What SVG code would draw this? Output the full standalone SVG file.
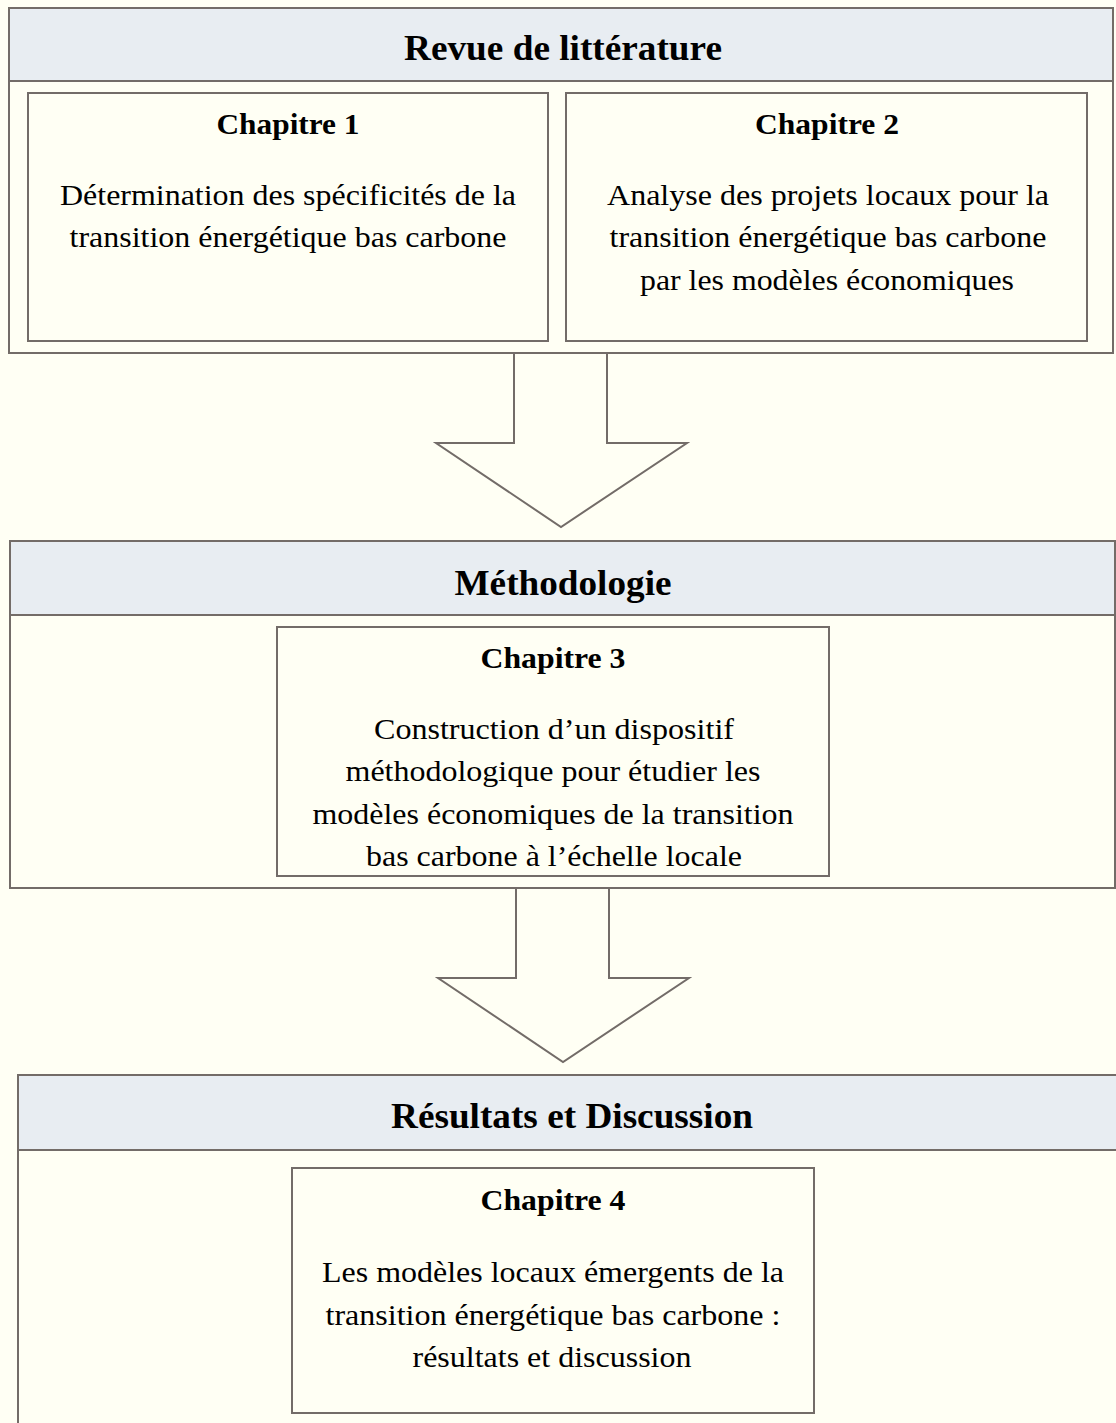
<svg xmlns="http://www.w3.org/2000/svg" width="1116" height="1423" viewBox="0 0 1116 1423" font-family="'Liberation Serif', 'Times New Roman', Times, serif">
<style>
.bg{fill:#FFFFF4}
.box{fill:#FFFFF4;stroke:#736C68;stroke-width:2}
.hdr{fill:#E8EDF2;stroke:#736C68;stroke-width:2}
.arr{fill:#FFFFF4;stroke:#736C68;stroke-width:2;stroke-linejoin:miter}
text{font-family:'Liberation Serif', 'Times New Roman', Times, serif;fill:#000;text-anchor:middle}
.h{font-size:36px;font-weight:bold}
.c{font-size:30px;font-weight:bold}
.t{font-size:30px}
</style>
<rect class="bg" x="0" y="0" width="1116" height="1423"/>
<g id="connectors">
<path class="arr" d="M514,353 V443 H436 L561,527 L687,443 H607 V353"/>
<path class="arr" d="M516,888 V978 H438 L563,1062 L689,978 H609 V888"/>
</g>
<g id="revue">
<rect class="box" x="9" y="8" width="1104" height="345"/>
<rect class="hdr" x="9" y="8" width="1104" height="73"/>
<text class="h" x="563" y="60" textLength="318" lengthAdjust="spacingAndGlyphs">Revue de littérature</text>
</g>
<g id="chapitre1">
<rect class="box" x="28" y="93" width="520" height="248"/>
<text class="c" x="288" y="134" textLength="143" lengthAdjust="spacingAndGlyphs">Chapitre 1</text>
<text class="t" x="288" y="205" textLength="456" lengthAdjust="spacingAndGlyphs">Détermination des spécificités de la</text>
<text class="t" x="288" y="247" textLength="437" lengthAdjust="spacingAndGlyphs">transition énergétique bas carbone</text>
</g>
<g id="chapitre2">
<rect class="box" x="566" y="93" width="521" height="248"/>
<text class="c" x="827" y="134" textLength="144" lengthAdjust="spacingAndGlyphs">Chapitre 2</text>
<text class="t" x="828" y="205" textLength="442" lengthAdjust="spacingAndGlyphs">Analyse des projets locaux pour la</text>
<text class="t" x="828" y="247" textLength="437" lengthAdjust="spacingAndGlyphs">transition énergétique bas carbone</text>
<text class="t" x="827" y="290" textLength="374" lengthAdjust="spacingAndGlyphs">par les modèles économiques</text>
</g>
<g id="methodologie">
<rect class="box" x="10" y="541" width="1105" height="347"/>
<rect class="hdr" x="10" y="541" width="1105" height="74"/>
<text class="h" x="563" y="595" textLength="217" lengthAdjust="spacingAndGlyphs">Méthodologie</text>
</g>
<g id="chapitre3">
<rect class="box" x="277" y="627" width="552" height="249"/>
<text class="c" x="553" y="668" textLength="145" lengthAdjust="spacingAndGlyphs">Chapitre 3</text>
<text class="t" x="554" y="739" textLength="360" lengthAdjust="spacingAndGlyphs">Construction d’un dispositif</text>
<text class="t" x="553" y="781" textLength="415" lengthAdjust="spacingAndGlyphs">méthodologique pour étudier les</text>
<text class="t" x="553" y="824" textLength="481" lengthAdjust="spacingAndGlyphs">modèles économiques de la transition</text>
<text class="t" x="554" y="866" textLength="376" lengthAdjust="spacingAndGlyphs">bas carbone à l’échelle locale</text>
</g>
<g id="resultats">
<rect class="box" x="18" y="1075" width="1110" height="360"/>
<rect class="hdr" x="18" y="1075" width="1110" height="75"/>
<text class="h" x="572" y="1128" textLength="362" lengthAdjust="spacingAndGlyphs">Résultats et Discussion</text>
</g>
<g id="chapitre4">
<rect class="box" x="292" y="1168" width="522" height="245"/>
<text class="c" x="553" y="1210" textLength="145" lengthAdjust="spacingAndGlyphs">Chapitre 4</text>
<text class="t" x="553" y="1282" textLength="462" lengthAdjust="spacingAndGlyphs">Les modèles locaux émergents de la</text>
<text class="t" x="553" y="1325" textLength="455" lengthAdjust="spacingAndGlyphs">transition énergétique bas carbone :</text>
<text class="t" x="552" y="1367" textLength="279" lengthAdjust="spacingAndGlyphs">résultats et discussion</text>
</g>
</svg>
